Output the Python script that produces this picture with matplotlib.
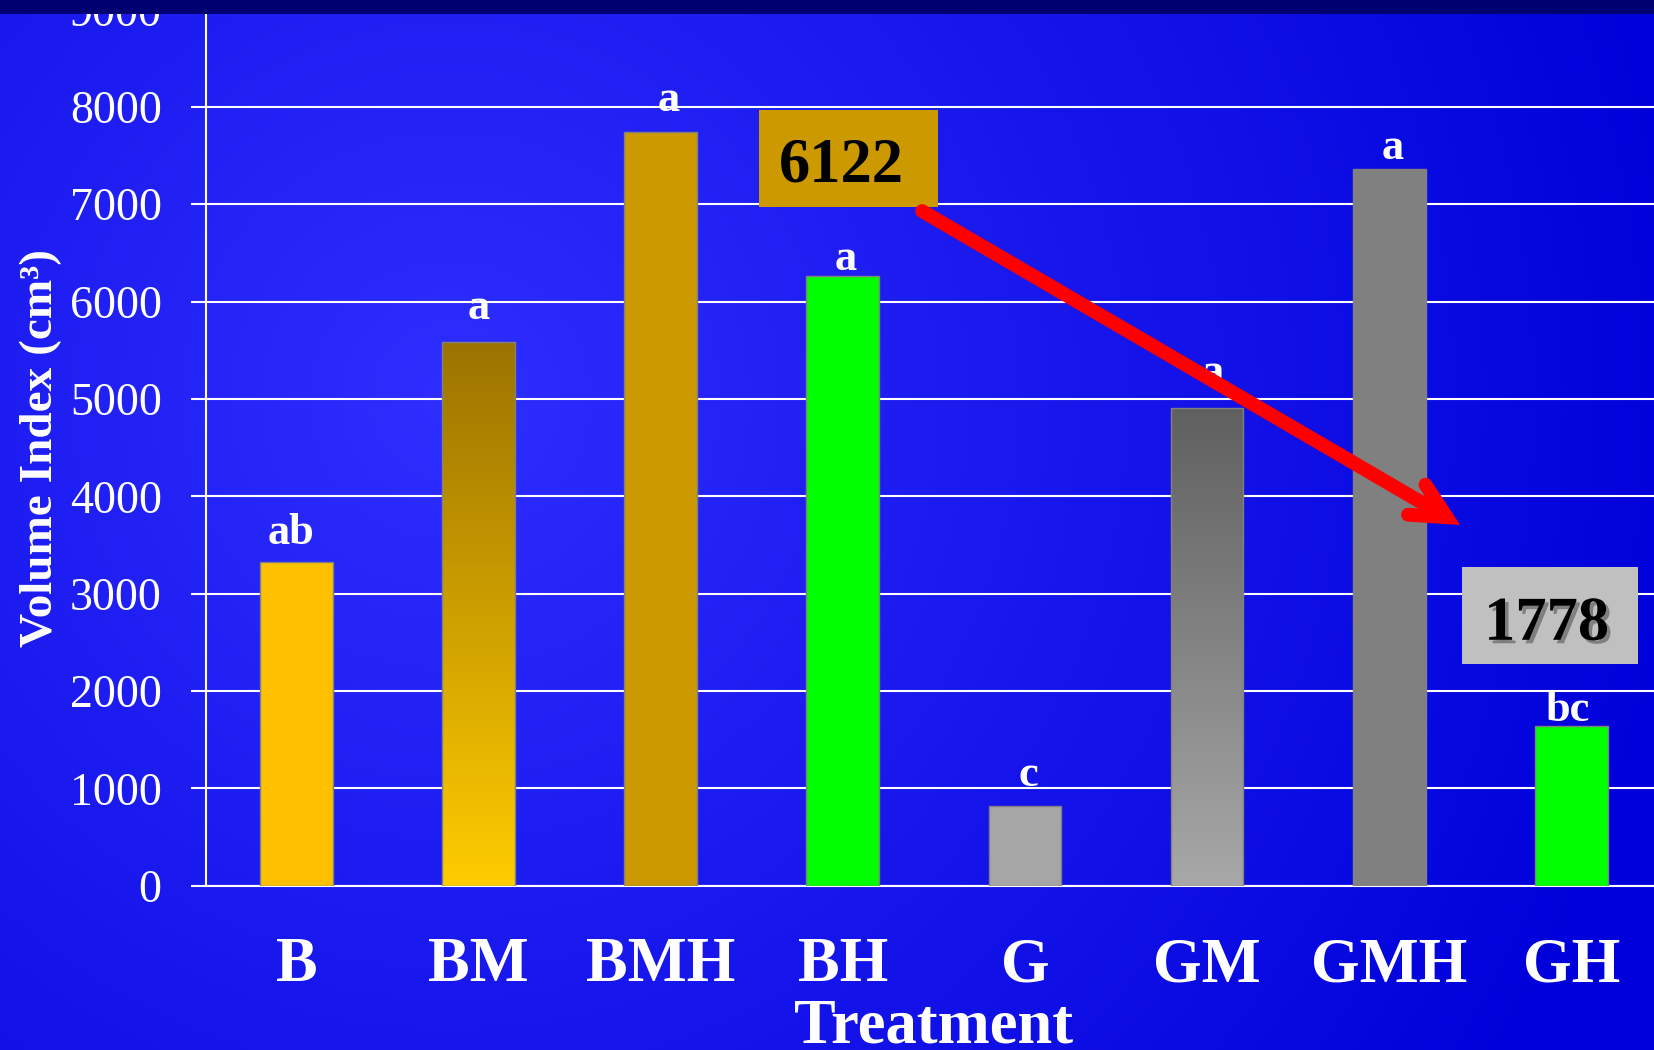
import numpy as np
import matplotlib.pyplot as plt
import matplotlib.patheffects as pe
from matplotlib.patches import Rectangle, FancyArrowPatch
from matplotlib.colors import LinearSegmentedColormap, to_rgb

treatments = ['B', 'BM', 'BMH', 'BH', 'G', 'GM', 'GMH', 'GH']
volume_index = [3330, 5585, 7745, 6260, 820, 4910, 7360, 1640]
groups = ['ab', 'a', 'a', 'a', 'c', 'a', 'a', 'bc']
yticks = np.arange(0, 9001, 1000)
callouts = ['6122', '1778']

bar_colors = ['#FFC000', 'none', '#CC9900', '#00FF00', '#A6A6A6', 'none', '#808080', '#00FF00']
# shaded bars: (top colour, bottom colour)
bar_shades = {1: ('#9C7300', '#FFCC00'), 5: ('#606060', '#A8A8A8')}
# nudges for the group letters, pixels (dx, gap above bar)
letter_nudge = [(-6, 18), (0, 23), (8, 21), (3, 6), (3, 20), (6, 24), (4, 10), (-4, 5)]

W, H, DPI = 1654, 1050, 100
plt.rcParams['font.family'] = ['Liberation Serif', 'DejaVu Serif']

fig = plt.figure(figsize=(W / DPI, H / DPI), dpi=DPI)

# blue radial backdrop
bg = fig.add_axes([0, 0, 1, 1], zorder=-1)
yy, xx = np.mgrid[0:H, 0:W]
t = np.clip(np.hypot(xx - 450, yy - 400) / 1250, 0, 1)[..., None]
c0, c1 = np.array(to_rgb('#2E2EFF')), np.array(to_rgb('#0000DA'))
bg.imshow(c0 * (1 - t) + c1 * t, aspect='auto', extent=(0, 1, 0, 1), origin='upper')
bg.axis('off')

ax = fig.add_axes([205.5 / W, (H - 885.7) / H, 1456.8 / W, 876.15 / H])
ax.set_facecolor('none')

x = np.arange(len(treatments))
bars = ax.bar(x, volume_index, width=0.4, color=bar_colors, edgecolor='#808080',
              linewidth=1.0, zorder=3)

grad = np.linspace(0, 1, 256).reshape(-1, 1)
for i, (top, bottom) in bar_shades.items():
    rect = bars[i]
    x0, y0 = rect.get_x(), rect.get_y()
    cmap = LinearSegmentedColormap.from_list('shade', [bottom, top])
    im = ax.imshow(grad, cmap=cmap, origin='lower', aspect='auto', zorder=2.9,
                   extent=(x0, x0 + rect.get_width(), y0, y0 + rect.get_height()))
    im.set_clip_path(rect)

for xi, v, g, (dx, dy) in zip(x, volume_index, groups, letter_nudge):
    ax.annotate(g, (xi, v), xytext=(dx * 0.72, dy * 0.72), textcoords='offset points',
                ha='center', va='baseline', color='white', fontsize=32,
                fontweight='bold', zorder=4)

ax.set_xlim(-0.5, 7.5)
ax.set_ylim(0, 9000)
ax.set_yticks(yticks)
ax.set_xticks(x, treatments)
ax.tick_params(axis='y', colors='white', labelsize=33, length=10.8, width=1.5, pad=20.7)
ax.tick_params(axis='x', colors='white', labelsize=45, length=0, pad=37)
for lab in ax.get_xticklabels():
    lab.set_fontweight('bold')
ax.grid(axis='y', color='white', lw=1.5)
ax.set_axisbelow(True)
for side in ['top', 'right']:
    ax.spines[side].set_visible(False)
for side in ['left', 'bottom']:
    ax.spines[side].set_color('white')
    ax.spines[side].set_linewidth(1.5)

ax.set_ylabel('Volume Index (cm³)', fontsize=34, fontweight='bold', color='white')
ax.yaxis.set_label_coords(-0.1056, 0.5)
ax.yaxis.label.set_va('baseline')
ax.set_xlabel('Treatment', fontsize=45, fontweight='bold', color='white')
ax.xaxis.set_label_coords(0.5, -0.1795)
ax.xaxis.label.set_va('baseline')

# before / after call-out boxes and arrow
ax.add_patch(Rectangle((2.54, 6975), 0.98, 994, facecolor='#CC9900', edgecolor='none', zorder=5))
ax.text(2.993, 7232, callouts[0], ha='center', va='baseline', fontsize=45,
        fontweight='bold', color='black', zorder=6)
ax.add_patch(Rectangle((6.40, 2279), 0.967, 999, facecolor='#C0C0C0', edgecolor='none', zorder=5))
ax.text(6.865, 2526, callouts[1], ha='center', va='baseline', fontsize=45,
        fontweight='bold', color='black', zorder=6,
        path_effects=[pe.withSimplePatchShadow(offset=(2.5, -2.5), shadow_rgbFace='#555555', alpha=0.6)])

arrow = FancyArrowPatch((3.435, 6930), (6.39, 3705),
                        arrowstyle='->,head_length=25,head_width=12.5', mutation_scale=1,
                        lw=10, color='red', capstyle='round', joinstyle='miter',
                        shrinkA=0, shrinkB=0, zorder=7)
ax.add_patch(arrow)

# dark strip along the top edge
fig.add_artist(Rectangle((0, 1 - 14 / H), 1, 14 / H, transform=fig.transFigure,
                         facecolor='#000070', edgecolor='none', zorder=10))

fig.savefig('out.png', dpi=DPI)
